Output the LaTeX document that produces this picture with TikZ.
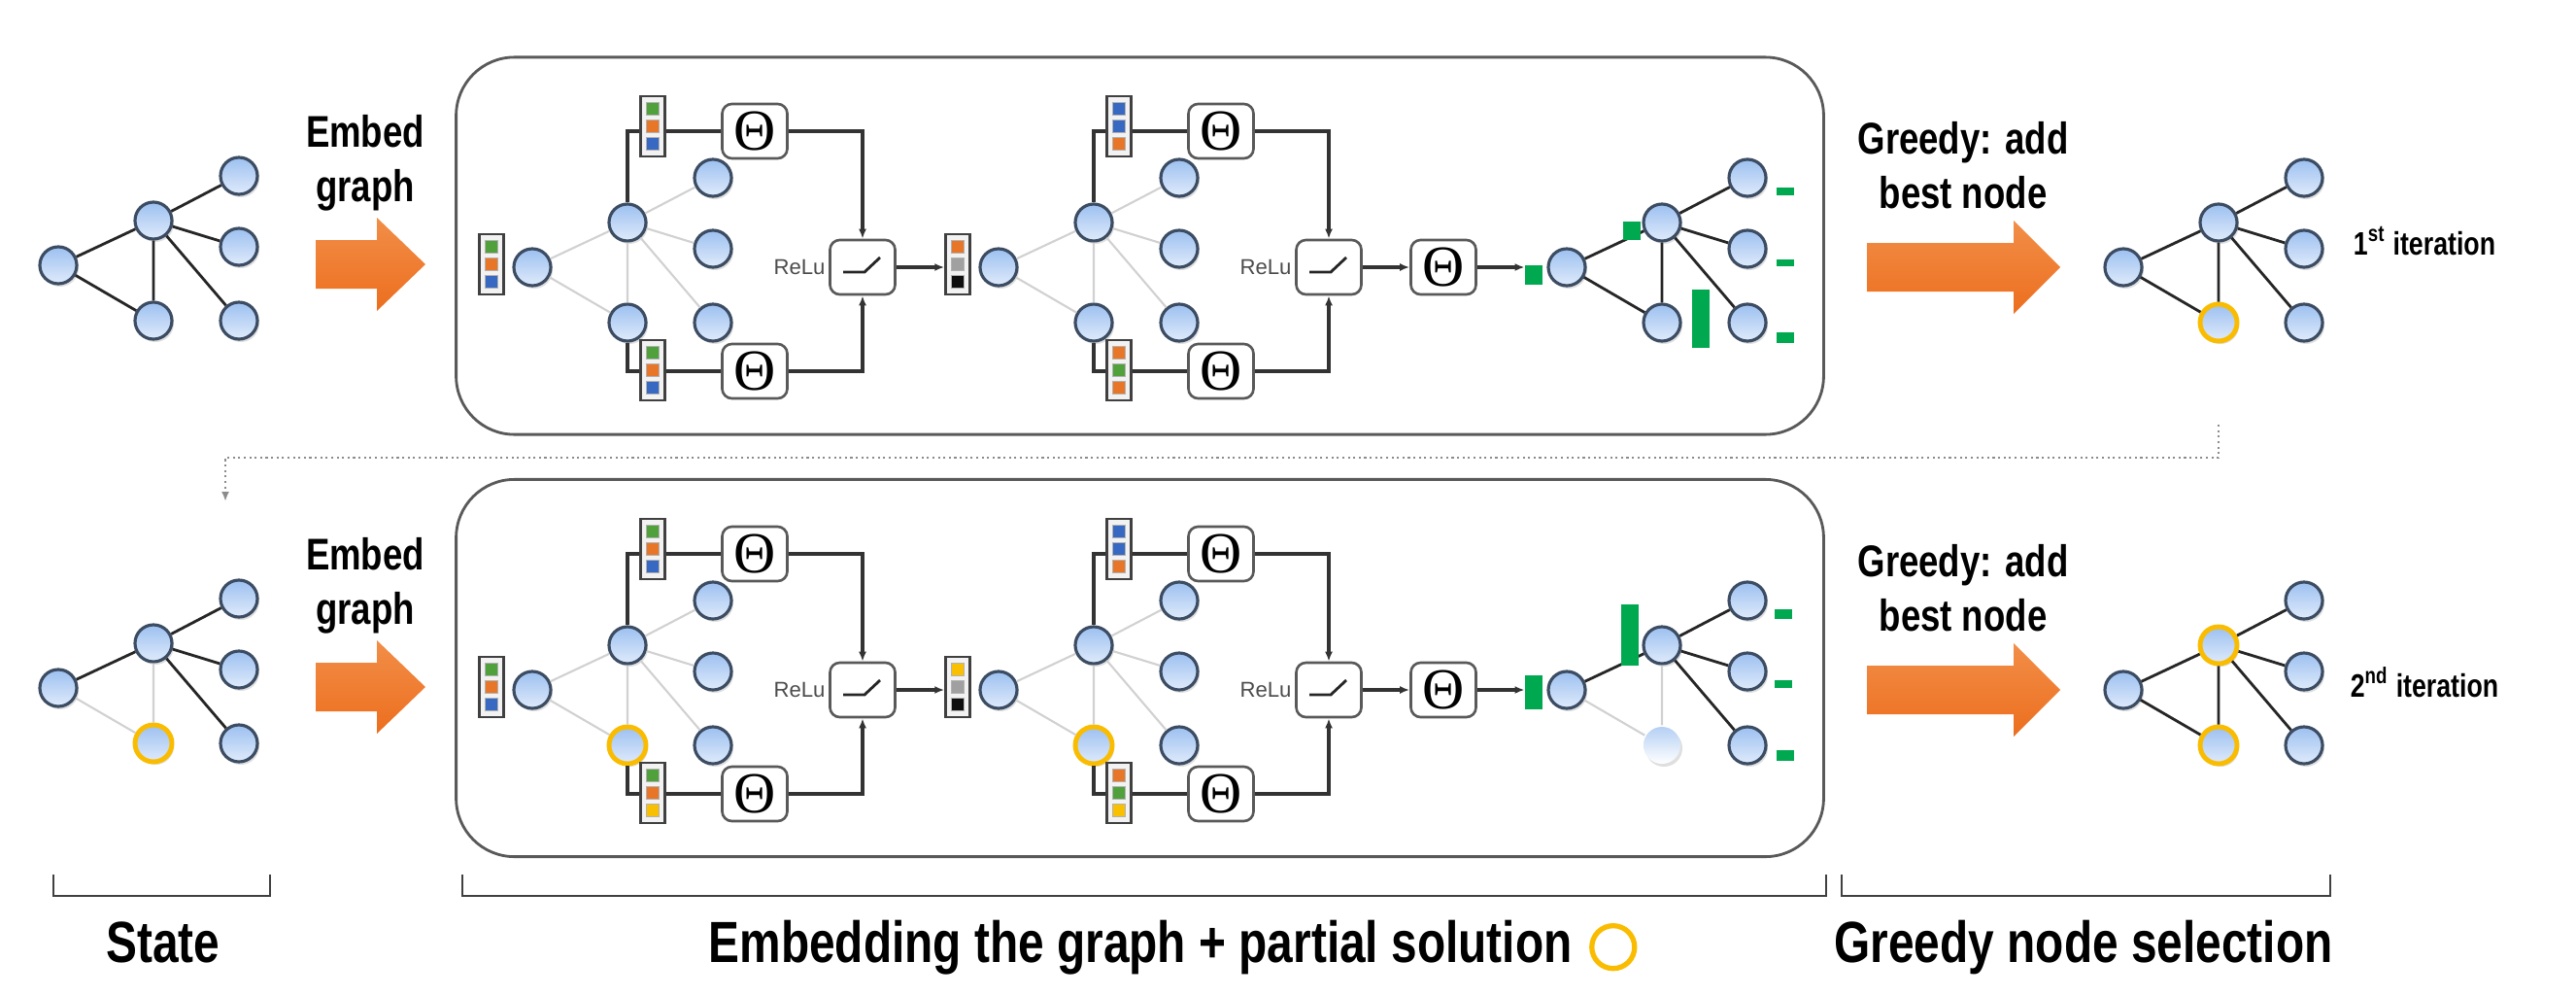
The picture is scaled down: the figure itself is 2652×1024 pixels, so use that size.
\documentclass[tikz,border=0pt]{standalone}
\usepackage{fontspec}
\setmainfont{Liberation Sans}
\newfontfamily\condfont{Liberation Sans}[FakeStretch=0.8]
\newfontfamily\thetafont{Liberation Serif}
\usetikzlibrary{positioning, calc, arrows.meta, shadows}

\definecolor{nodetop}{RGB}{156,192,240}
\definecolor{nodebot}{RGB}{224,235,251}
\definecolor{nodeline}{RGB}{60,76,98}
\definecolor{ring}{RGB}{250,188,0}
\definecolor{barg}{RGB}{0,168,80}
\definecolor{arrowtop}{RGB}{242,142,72}
\definecolor{arrowbot}{RGB}{236,110,30}
\definecolor{cg}{RGB}{80,160,60}
\definecolor{co}{RGB}{232,118,40}
\definecolor{cb}{RGB}{55,105,195}
\definecolor{cs}{RGB}{160,160,160}
\definecolor{ck}{RGB}{15,15,15}
\definecolor{cy}{RGB}{248,192,0}

% six node graph: prefix, origin, style of C, style of B, edges, edges at B
\newcommand{\mkgraph}[6]{%
  \node[gnode] (#1L) at (#2) {};
  \node[gnode,#3] (#1C) at ($(#2)+(98,-46)$) {};
  \node[gnode] (#1TR) at ($(#2)+(186,-92)$) {};
  \node[gnode] (#1MR) at ($(#2)+(186,-19)$) {};
  \node[gnode,#4] (#1B) at ($(#2)+(98,57)$) {};
  \node[gnode] (#1BR) at ($(#2)+(186,57)$) {};
  \draw[#5] (#1L) -- (#1C) (#1C) -- (#1TR) (#1C) -- (#1MR) (#1C) -- (#1BR);
  \draw[#6] (#1L) -- (#1B) (#1C) -- (#1B);
}
% feature vector: name, position, colours top to bottom
\newcommand{\vecbox}[3]{%
  \node[vecframe] (#1) at (#2) {};
  \foreach \col [count=\i from -1] in {#3}
    \node[cell, fill=\col] at ($(#1)+(0,18*\i)$) {};
}
% one embedding layer: prefix, origin, left/top/bottom vectors, style of B
\newcommand{\mklayer}[6]{%
  \mkgraph{#1}{#2}{}{#6}{lightedge}{lightedge}
  \node[opbox] (#1tt) at ($(#2)+(229,-140)$) {Θ};
  \node[opbox] (#1tb) at ($(#2)+(229,107)$) {Θ};
  \node[opbox] (#1r) at ($(#2)+(340,0)$) {};
  \draw[ramp] ([shift={(-20,5)}]#1r.center) -- ++(22,0) -- ++(16,-15);
  \node[relulab, left=0.03cm of #1r] {ReLu};
  \draw[wire] (#1C) |- (#1tt);
  \draw[wire,->] (#1tt) -| (#1r);
  \draw[wire] (#1B) |- (#1tb);
  \draw[wire,->] (#1tb) -| (#1r);
  \vecbox{#1vl}{$(#2)+(-42,-3)$}{#3}
  \vecbox{#1vt}{$(#2)+(124,-145)$}{#4}
  \vecbox{#1vb}{$(#2)+(124,106)$}{#5}
}
% big orange arrow: start, head start, tip, middle y
\newcommand{\bigarrow}[4]{%
  \shade[top color=arrowtop, bottom color=arrowbot]
    (#1,#4-25) -- (#2,#4-25) -- (#2,#4-48) -- (#3,#4) -- (#2,#4+48) -- (#2,#4+25) -- (#1,#4+25) -- cycle;
}

\begin{document}
\begin{tikzpicture}
  [x=0.01cm, y=-0.01cm, >={Latex[length=0.1cm,width=0.08cm]},
   gnode/.style={circle, draw=nodeline, line width=0.9pt, minimum size=0.38cm, inner sep=0,
     top color=nodetop, bottom color=nodebot,
     drop shadow={opacity=0.25, shadow xshift=0.02cm, shadow yshift=-0.03cm}},
   sel/.style={draw=ring, line width=1.4pt},
   fade/.style={draw=none, top color=nodetop!75!white, bottom color=white},
   darkedge/.style={line width=0.8pt, black!85},
   lightedge/.style={line width=0.6pt, black!18},
   wire/.style={line width=0.9pt, black!80},
   ramp/.style={line width=0.8pt, black!85},
   opbox/.style={rectangle, rounded corners=0.1cm, draw=black!65, line width=0.75pt, fill=white,
     minimum width=0.67cm, minimum height=0.56cm, inner sep=0,
     font=\thetafont\fontsize{17}{17}\selectfont},
   vecframe/.style={rectangle, draw=black!75, line width=0.7pt, fill=black!5,
     minimum width=0.25cm, minimum height=0.62cm, inner sep=0},
   cell/.style={rectangle, draw=black!30, line width=0.2pt, minimum size=0.135cm, inner sep=0},
   bar/.style={rectangle, fill=barg, minimum width=0.175cm, inner sep=0},
   stagebox/.style={rectangle, rounded corners=0.6cm, draw=black!65, line width=0.8pt,
     minimum width=14.07cm, minimum height=3.88cm},
   relulab/.style={font=\fontsize{6.3}{7}\selectfont, text=black!70, inner sep=0},
   title/.style={align=center, inner sep=0, font=\condfont\bfseries\fontsize{13}{16}\selectfont},
   iter/.style={inner sep=0, font=\condfont\bfseries\fontsize{9.5}{11}\selectfont},
   caption/.style={inner sep=0, font=\condfont\bfseries\fontsize{17}{20}\selectfont},
   ringmark/.style={circle, draw=ring, line width=1.5pt, minimum size=0.44cm, inner sep=0},
   feedback/.style={densely dotted, line width=0.6pt, black!45, ->},
   bracket/.style={line width=0.8pt, black!75}]
  \useasboundingbox (0,0) rectangle (2652,1024);

  % stage frames
  \node[stagebox] (box1) at (1173.5,253) {};
  \node[stagebox] (box2) at (1173.5,687.5) {};

  % first iteration
  \mkgraph{st}{60,273}{}{}{darkedge}{darkedge}
  \node[title] (emb1) at (376,168) {Embed\\graph};
  \bigarrow{325}{388}{438}{272}
  \mklayer{t1}{548,275}{cg,co,cb}{cg,co,cb}{cg,co,cb}{}
  \mklayer{t2}{1028,275}{co,cs,ck}{cb,cb,co}{co,cg,co}{}
  \draw[wire,->] (t1r) -- (t1r -| t2vl.west);
  \node[opbox] (to3) at (1486,275) {Θ};
  \draw[wire,->] (t2r) -- (to3);
  \mkgraph{to}{1613,275}{}{}{darkedge}{darkedge}
  \node[bar, minimum height=0.2cm] (toLb) at (1579,283) {};
  \draw[wire,->] (to3) -- (to3 -| toLb.west);
  \foreach \p/\h in {{1680,237}/19, {1751,328}/60, {1838,197}/8, {1838,270}/7, {1838,347}/11}
    \node[bar, minimum height=\h*0.01cm] at (\p) {};
  \node[title] (gr1) at (2021,170) {Greedy: add\\best node};
  \bigarrow{1922}{2073}{2121}{275}
  \mkgraph{rt}{2186,275}{}{sel}{darkedge}{darkedge}
  \node[iter] (it1) at (2496,248) {1\textsuperscript{st} iteration};

  % feed the new state back
  \coordinate (fbs) at (2284,437);
  \coordinate (fbe) at (232,516);
  \draw[feedback] (fbs) -- ++(0,34) -| (fbe);

  % second iteration
  \mkgraph{sb}{60,708}{}{sel}{darkedge}{lightedge}
  \node[title] (emb2) at (376,603) {Embed\\graph};
  \bigarrow{325}{388}{438}{707}
  \mklayer{b1}{548,710}{cg,co,cb}{cg,co,cb}{cg,co,cy}{sel}
  \mklayer{b2}{1028,710}{cy,cs,ck}{cb,cb,co}{co,cg,cy}{sel}
  \draw[wire,->] (b1r) -- (b1r -| b2vl.west);
  \node[opbox] (bo3) at (1486,710) {Θ};
  \draw[wire,->] (b2r) -- (bo3);
  \mkgraph{bo}{1613,710}{}{fade}{darkedge}{lightedge}
  \node[bar, minimum height=0.35cm] (boLb) at (1579,712) {};
  \draw[wire,->] (bo3) -- (bo3 -| boLb.west);
  \foreach \p/\h in {{1678,653}/63, {1836,632}/10, {1836,704}/8, {1838,777}/11}
    \node[bar, minimum height=\h*0.01cm] at (\p) {};
  \node[title] (gr2) at (2021,605) {Greedy: add\\best node};
  \bigarrow{1922}{2073}{2121}{710}
  \mkgraph{rb}{2186,710}{sel}{sel}{darkedge}{darkedge}
  \node[iter] (it2) at (2496,702) {2\textsuperscript{nd} iteration};

  % brackets and captions
  \draw[bracket] (55,900) |- (278,922) -- (278,900);
  \draw[bracket] (476,900) |- (1880,922) -- (1880,900);
  \draw[bracket] (1896,900) |- (2399,922) -- (2399,900);
  \node[caption, anchor=base] (lstate) at (168,990) {State};
  \node[caption, anchor=base] (lemb) at (1174,990) {Embedding the graph + partial solution};
  \node[ringmark, right=0.17cm of lemb] (lring) {};
  \node[caption, anchor=base] (lgreedy) at (2145,990) {Greedy node selection};
\end{tikzpicture}
\end{document}
